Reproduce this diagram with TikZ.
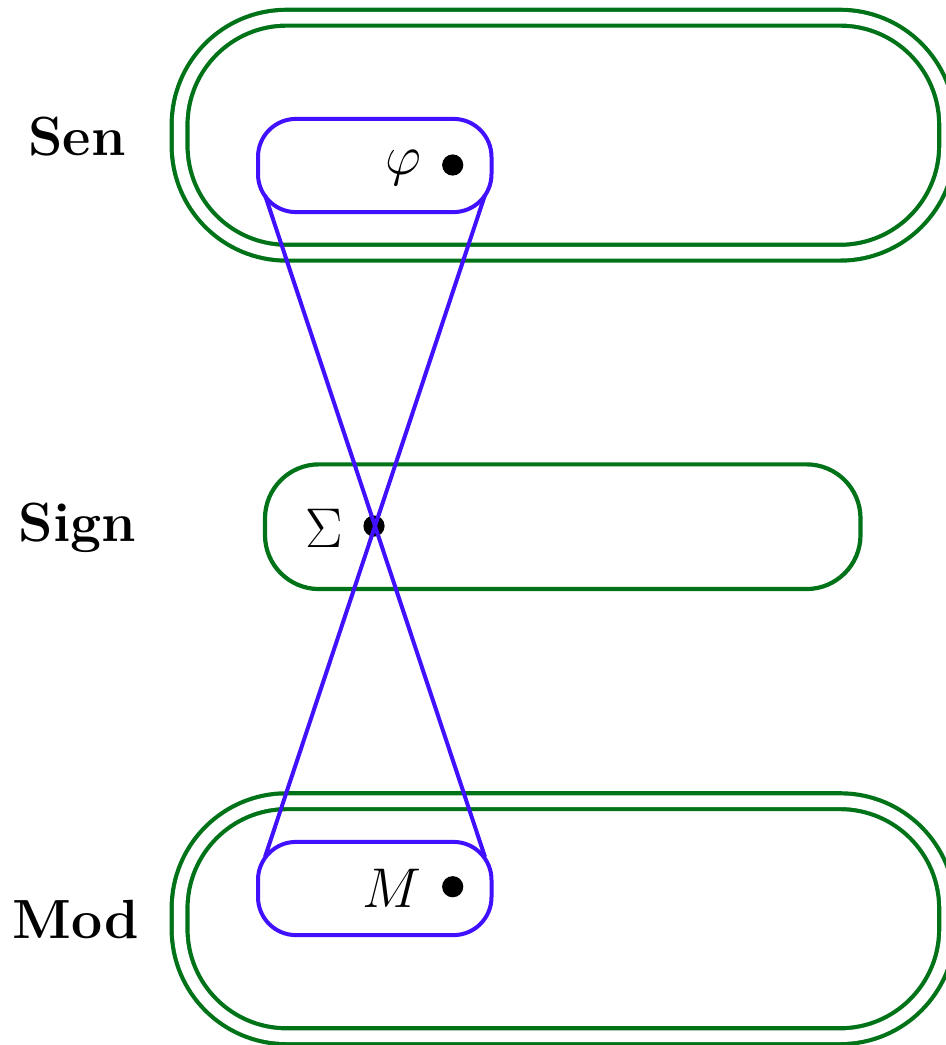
\RequirePackage{fix-cm}
\documentclass[tikz,border=0pt]{standalone}
\usepackage{fontspec}
\usetikzlibrary{calc}
\definecolor{frameGreen}{RGB}{0,115,25}
\definecolor{logicBlue}{RGB}{64,16,255}
\begin{document}
\begin{tikzpicture}[x=0.5pt,y=-0.5pt,
  outerbox/.style={draw=frameGreen, line width=2.1pt, double, double distance=5.8pt,
    rectangle, rounded corners=53.5pt, minimum width=383.75pt, minimum height=117.5pt, inner sep=0pt},
  signbox/.style={draw=frameGreen, line width=2.1pt, rectangle, rounded corners=27pt,
    minimum width=297.75pt, minimum height=62.35pt, inner sep=0pt},
  bluebox/.style={draw=logicBlue, line width=2pt, rectangle, rounded corners=19pt,
    minimum width=116.75pt, minimum height=46.6pt, inner sep=0pt},
  bluelink/.style={draw=logicBlue, line width=2pt},
  dotmark/.style={circle, fill=black, inner sep=0pt, minimum size=10.6pt},
  catlabel/.style={inner sep=0pt, anchor=base, font=\fontsize{27.6pt}{32pt}\selectfont\bfseries},
  mathlabel/.style={inner sep=0pt, anchor=base, font=\fontsize{28pt}{34pt}\selectfont}]
\useasboundingbox (0,0) rectangle (946,1045);
% category containers
\node[outerbox] (sen) at (563.35,135.2) {};
\node[signbox] (sign) at (562.75,526.7) {};
\node[outerbox] (mod) at (563.35,918.7) {};
% labels
\node[catlabel] (senlab) at (77,155) {Sen};
\node[catlabel] (signlab) at (77.5,541.7) {Sign};
\node[catlabel] (modlab) at (75.5,938.3) {Mod};
% blue sets
\node[bluebox] (phibox) at (374.75,165.5) {};
\node[bluebox] (mbox) at (374.75,888.5) {};
% elements
\node[mathlabel] (phitext) at (403,174) {$\varphi$};
\node[dotmark] (phidot) at (452.7,165) {};
\node[mathlabel] (sigmatext) at (324,547) {$\Sigma$};
\node[dotmark] (sigmadot) at (374,526) {};
\node[mathlabel] (mtext) at (392,907.5) {$M$};
\node[dotmark] (mdot) at (452.7,886.7) {};
% cone lines
\coordinate (phiL) at (265,195);
\coordinate (phiR) at (485,195);
\coordinate (mL) at (265,857);
\coordinate (mR) at (485,857);
\draw[bluelink] (phiL) -- (mR);
\draw[bluelink] (phiR) -- (mL);
\end{tikzpicture}
\end{document}
